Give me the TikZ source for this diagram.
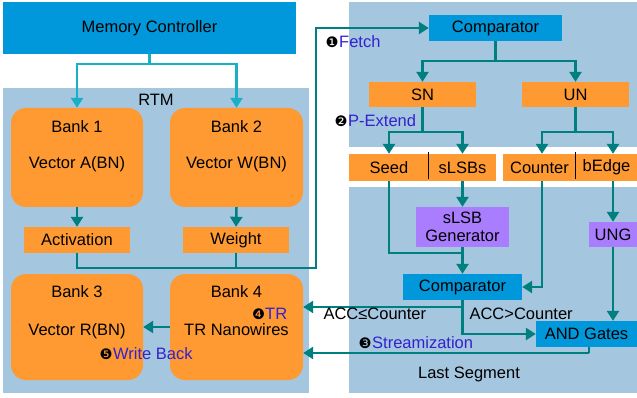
\documentclass[tikz,border=0pt]{standalone}
\usepackage{fontspec}
\setmainfont{Liberation Sans}
\newfontfamily\markfont{DejaVu Sans}
\usetikzlibrary{arrows.meta,calc}

\definecolor{ctrlblue}{HTML}{0098DB}
\definecolor{orng}{HTML}{FF9A33}
\definecolor{panelblue}{HTML}{A4C6DF}
\definecolor{flowteal}{HTML}{007F80}
\definecolor{busCyan}{HTML}{17B0C4}
\definecolor{genpurple}{HTML}{AA7DFF}
\definecolor{stepblue}{HTML}{3322CC}

\tikzset{
  every node/.style={font=\fontsize{16.5}{18}\selectfont, text=black},
  blk/.style={inner sep=0pt, draw=none, anchor=center},
  ctrl/.style={blk, fill=ctrlblue},
  obox/.style={blk, fill=orng},
  gen/.style={blk, fill=genpurple, align=center},
  bank/.style={blk, fill=orng, rounded corners=15pt},
  flow/.style={draw=flowteal, line width=2.5pt,
    -{Triangle[width=12pt,length=10pt]}},
  wire/.style={draw=flowteal, line width=2.5pt},
  feed/.style={draw=busCyan, line width=2.5pt,
    -{Triangle[width=12pt,length=10pt]}},
  stepnum/.style={font=\markfont\fontsize{14.5}{14.5}\selectfont, inner sep=0pt},
  steptxt/.style={text=stepblue, anchor=west, inner sep=0pt},
}

\begin{document}
\begin{tikzpicture}[x=1pt,y=-1pt]
  \useasboundingbox (0,0) rectangle (637,398);

  % background panels
  \fill[panelblue] (3,88) rectangle (309,393);
  \fill[panelblue] (349,2) rectangle (637,147);
  \fill[panelblue] (349,187) rectangle (637,393);
  \node (rtm) at (156,100) {RTM};
  \node (lastseg) at (469,374) {Last Segment};

  % memory side
  \node[ctrl, minimum width=293pt, minimum height=52pt] (mc) at (149.5,28) {Memory Controller};
  \node[bank, minimum width=132pt, minimum height=99pt] (b1) at (77,157.5) {};
  \node[bank, minimum width=133pt, minimum height=99pt] (b2) at (236.5,157.5) {};
  \node[bank, minimum width=132pt, minimum height=106pt] (b3) at (77,327) {};
  \node[bank, minimum width=133pt, minimum height=106pt] (b4) at (236.5,327) {};
  \node (b1t) at (77,127) {Bank 1};
  \node (b1v) at (77,164) {Vector A(BN)};
  \node (b2t) at (236.5,127) {Bank 2};
  \node (b2v) at (236.5,164) {Vector W(BN)};
  \node (b3t) at (77,292) {Bank 3};
  \node (b3v) at (77,331) {Vector R(BN)};
  \node (b4t) at (236.5,292) {Bank 4};
  \node (b4v) at (236.5,330) {TR Nanowires};
  \node[obox, minimum width=106pt, minimum height=26pt] (act) at (77,240) {Activation};
  \node[obox, minimum width=106pt, minimum height=26pt] (wgt) at (236,240) {Weight};

  % processing side
  \node[ctrl, minimum width=133pt, minimum height=26pt] (cmp1) at (495.5,28) {Comparator};
  \node[obox, minimum width=107pt, minimum height=25pt] (sn) at (422.5,94.5) {SN};
  \node[obox, minimum width=107pt, minimum height=25pt] (un) at (575.5,94.5) {UN};
  \node[obox, minimum width=80pt, minimum height=27pt] (seed) at (389,167.5) {Seed};
  \node[obox, minimum width=67pt, minimum height=27pt] (slsbs) at (462.5,167.5) {sLSBs};
  \node[obox, minimum width=73pt, minimum height=27pt] (cnt) at (539.5,167.5) {Counter};
  \node[obox, minimum width=61pt, minimum height=27pt] (bedge) at (606.5,167.5) {bEdge};
  \draw[black, line width=1pt] (slsbs.north west) ++(0,-2) -- ([yshift=2pt]slsbs.south west);
  \draw[black, line width=1pt] (bedge.north west) ++(0,-2) -- ([yshift=2pt]bedge.south west);
  \node[gen, minimum width=93pt, minimum height=40pt] (sgen) at (462.5,227) {sLSB\\Generator};
  \node[gen, minimum width=48pt, minimum height=25pt] (ung) at (613,234.5) {UNG};
  \node[ctrl, minimum width=119pt, minimum height=26pt] (cmp2) at (462.5,287) {Comparator};
  \node[ctrl, minimum width=101pt, minimum height=26pt] (andg) at (586.5,334) {AND Gates};

  % memory controller to banks
  \draw[feed] (mc.south) -- ++(0,10) -| (b1.north);
  \draw[feed] (mc.south) -- ++(0,10) -| (b2.north);
  \draw[flow] (b1.south) -- (act.north);
  \draw[flow] (b2.south) -- (wgt.north);

  % fetch bus
  \coordinate (bus) at (316,268);
  \draw[wire] (wgt.south) -- (wgt.south |- bus);
  \draw[flow] (act.south) |- (bus) |- (cmp1.west);

  % comparator tree
  \draw[flow] (cmp1.south) -- ++(0,20) -| (sn.north);
  \draw[flow] (cmp1.south) -- ++(0,20) -| (un.north);
  \draw[flow] (sn.south) -- ++(0,25) -| (seed.north);
  \draw[flow] (sn.south) -- ++(0,25) -| (slsbs.north);
  \draw[flow] (un.south) -- ++(0,25) -| ([xshift=2.5pt]cnt.north);
  \draw[flow] (un.south) -- ++(0,25) -| (bedge.north -| ung.north);

  % last segment
  \draw[flow] (slsbs.south) -- (sgen.north);
  \draw[flow] (sgen.south) -- (cmp2.north);
  \draw[wire] (seed.south) |- ([yshift=-6pt]sgen.south);
  \draw[flow] ([xshift=2.5pt]cnt.south) |- (cmp2.east);
  \draw[flow] (ung.north |- bedge.south) -- (ung.north);
  \draw[flow] (ung.south) -- (ung.south |- andg.north);
  \draw[flow] (cmp2.south) |- ([yshift=20pt]b4.east);
  \draw[flow] (cmp2.south) |- (andg.west);
  \draw[flow] ([xshift=2.5pt]andg.south) -- ++(0,6) |- ([yshift=-26pt]b4.east);
  \draw[flow] (b4.west) -- (b3.east);

  % condition labels
  \node[anchor=west] (le) at (320,314) {ACC≤Counter};
  \node[anchor=west] (gt) at (466,314) {ACC>Counter};

  % numbered steps
  \node[stepnum] (n1) at (332,42) {❶};
  \node[steptxt] (s1) at (339,42) {Fetch};
  \node[stepnum] (n2) at (341,121) {❷};
  \node[steptxt] (s2) at (348,121) {P-Extend};
  \node[stepnum] (n3) at (365,343) {❸};
  \node[steptxt] (s3) at (372,343) {Streamization};
  \node[stepnum] (n4) at (258.5,314) {❹};
  \node[steptxt] (s4) at (265,314) {TR};
  \node[stepnum] (n5) at (106,354) {❺};
  \node[steptxt] (s5) at (113,354) {Write Back};
\end{tikzpicture}
\end{document}
